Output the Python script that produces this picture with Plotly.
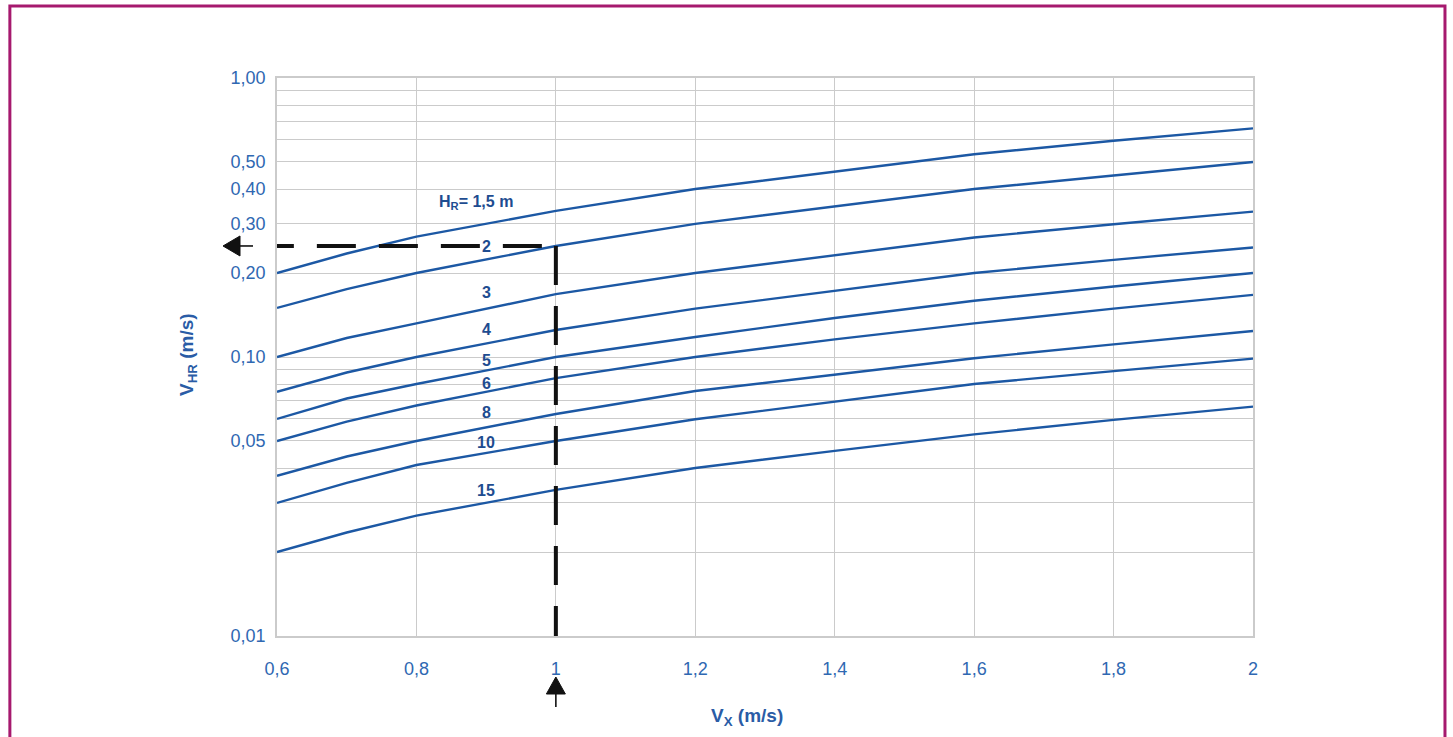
import numpy as np
import plotly.graph_objects as go

# Approach velocity V_X (m/s) at which each curve is tabulated
vx = [0.6, 0.7, 0.8, 1.0, 1.2, 1.4, 1.6, 1.8, 2.0]

# Curve names (H_R in m)
hr_names = ["1,5", "2", "3", "4", "5", "6", "8", "10", "15"]

# V_HR (m/s) for each H_R
v_hr_1_5 = [0.20, 0.235, 0.27, 0.334, 0.40, 0.462, 0.533, 0.596, 0.66]
v_hr_2 = [0.15, 0.175, 0.20, 0.25, 0.30, 0.346, 0.40, 0.447, 0.50]
v_hr_3 = [0.10, 0.117, 0.132, 0.168, 0.20, 0.231, 0.268, 0.299, 0.332]
v_hr_4 = [0.075, 0.088, 0.10, 0.125, 0.149, 0.173, 0.20, 0.223, 0.247]
v_hr_5 = [0.06, 0.071, 0.08, 0.10, 0.118, 0.138, 0.159, 0.179, 0.20]
v_hr_6 = [0.05, 0.0587, 0.067, 0.084, 0.10, 0.1157, 0.132, 0.149, 0.167]
v_hr_8 = [0.0375, 0.044, 0.05, 0.0625, 0.0755, 0.0867, 0.099, 0.111, 0.124]
v_hr_10 = [0.030, 0.0354, 0.041, 0.05, 0.0598, 0.0692, 0.080, 0.089, 0.0987]
v_hr_15 = [0.020, 0.0235, 0.027, 0.0334, 0.040, 0.0461, 0.0528, 0.0595, 0.0664]

series = [v_hr_1_5, v_hr_2, v_hr_3, v_hr_4, v_hr_5, v_hr_6, v_hr_8, v_hr_10, v_hr_15]

# Worked example
read_vx = 1.0
read_vhr = 0.25

# Axis ticks
x_ticks = [0.6, 0.8, 1.0, 1.2, 1.4, 1.6, 1.8, 2.0]
x_tick_text = ["0,6", "0,8", "1", "1,2", "1,4", "1,6", "1,8", "2"]
y_ticks = [0.01, 0.05, 0.1, 0.2, 0.3, 0.4, 0.5, 1.0]
y_tick_text = ["0,01", "0,05", "0,10", "0,20", "0,30", "0,40", "0,50", "1,00"]
y_minor_grid = [0.02, 0.03, 0.04, 0.06, 0.07, 0.08, 0.09, 0.6, 0.7, 0.8, 0.9]

CURVE = "#1C58A4"
TICK = "#2F68B2"
LABEL = "#1E4C90"
GRID = "#CBCBCB"
FRAME = "#A6196E"
INK = "#111111"
FONT = "Arial, Liberation Sans, sans-serif"

fig = go.Figure()

for vals in series:
    fig.add_trace(go.Scatter(x=vx, y=vals, mode="lines",
                             line=dict(color=CURVE, width=2.4),
                             showlegend=False, hoverinfo="skip"))

# Dashed read-off lines
fig.add_trace(go.Scatter(x=[read_vx, x_ticks[0]], y=[read_vhr, read_vhr], mode="lines",
                         line=dict(color=INK, width=4,
                                   dash="0px,14px,39px,23px,39px,23px,39px,23px,39px,23px,39px,23px"),
                         cliponaxis=False, showlegend=False, hoverinfo="skip"))
fig.add_trace(go.Scatter(x=[read_vx, read_vx], y=[read_vhr, y_ticks[0]], mode="lines",
                         line=dict(color=INK, width=4, dash="39px,21px"),
                         cliponaxis=False, showlegend=False, hoverinfo="skip"))

# Curve labels, placed just above each curve near V_X = 0.9
label_x = [0.885, 0.9, 0.9, 0.9, 0.9, 0.9, 0.9, 0.9, 0.9]
label_shift = [23, 12.5, 16, 14, 10.5, 8.5, 15, 10.5, 12.5]
annotations = []
for name, vals, lx, sh in zip(hr_names, series, label_x, label_shift):
    ly = np.interp(lx, vx, np.log10(vals))
    text = "H<sub>R</sub>= " + name + " m" if name == "1,5" else name
    annotations.append(dict(x=lx, y=ly, xref="x", yref="y", text=text, showarrow=False,
                            yshift=sh, xanchor="center", yanchor="middle",
                            font=dict(family=FONT, size=16, color=LABEL, weight="bold")))

# Axis titles
annotations.append(dict(x=0.4815, y=0, xref="paper", yref="paper", yshift=-81,
                        text="V<sub>X</sub> (m/s)", showarrow=False,
                        xanchor="center", yanchor="middle",
                        font=dict(family=FONT, size=19, color="#2A5CA6", weight="bold")))
annotations.append(dict(x=0, y=0.5036, xref="paper", yref="paper", xshift=-89,
                        text="V<sub>HR</sub> (m/s)", showarrow=False, textangle=-90,
                        xanchor="center", yanchor="middle",
                        font=dict(family=FONT, size=19, color="#2A5CA6", weight="bold")))

shapes = [
    # outer frame
    dict(type="rect", xref="paper", yref="paper", x0=-0.2737, x1=1.1967, y0=-0.2, y1=1.129,
         line=dict(color=FRAME, width=3), fillcolor="rgba(0,0,0,0)", layer="above"),
    # arrow pointing to the V_HR axis
    dict(type="path", xref="paper", yref="y", xsizemode="pixel", ysizemode="pixel",
         xanchor=0, yanchor=read_vhr,
         path="M -54,0 L -37,10 L -37,-10 Z", fillcolor=INK,
         line=dict(color=INK, width=1)),
    dict(type="path", xref="paper", yref="y", xsizemode="pixel", ysizemode="pixel",
         xanchor=0, yanchor=read_vhr,
         path="M -38,0 L -24,0", line=dict(color=INK, width=1.6)),
    # arrow from the V_X axis
    dict(type="path", xref="x", yref="paper", xsizemode="pixel", ysizemode="pixel",
         xanchor=read_vx, yanchor=0,
         path="M 0,-41 L 9.5,-58 L -9.5,-58 Z", fillcolor=INK,
         line=dict(color=INK, width=1)),
    dict(type="path", xref="x", yref="paper", xsizemode="pixel", ysizemode="pixel",
         xanchor=read_vx, yanchor=0,
         path="M 0,-57 L 0,-71", line=dict(color=INK, width=1.6)),
]

fig.update_layout(
    width=1453, height=737,
    margin=dict(l=277, r=200, t=78, b=101),
    paper_bgcolor="white", plot_bgcolor="white",
    font=dict(family=FONT),
    showlegend=False,
    annotations=annotations,
    shapes=shapes,
    xaxis=dict(range=[0.6, 2.0], tickvals=x_ticks, ticktext=x_tick_text,
               showgrid=True, gridcolor=GRID, gridwidth=1.3,
               showline=True, linecolor=GRID, linewidth=1.5, mirror=True,
               zeroline=False, ticks="", ticklabelstandoff=16,
               tickfont=dict(family=FONT, size=18, color=TICK)),
    yaxis=dict(type="log", range=[-2, 0], tickvals=y_ticks, ticktext=y_tick_text,
               showgrid=True, gridcolor=GRID, gridwidth=1.3,
               minor=dict(tickmode="array", tickvals=y_minor_grid, showgrid=True,
                          gridcolor=GRID, gridwidth=1.3, ticks=""),
               showline=True, linecolor=GRID, linewidth=1.5, mirror=True,
               zeroline=False, ticks="", ticklabelstandoff=6,
               tickfont=dict(family=FONT, size=18, color=TICK)),
)

fig.write_html("out.html")
